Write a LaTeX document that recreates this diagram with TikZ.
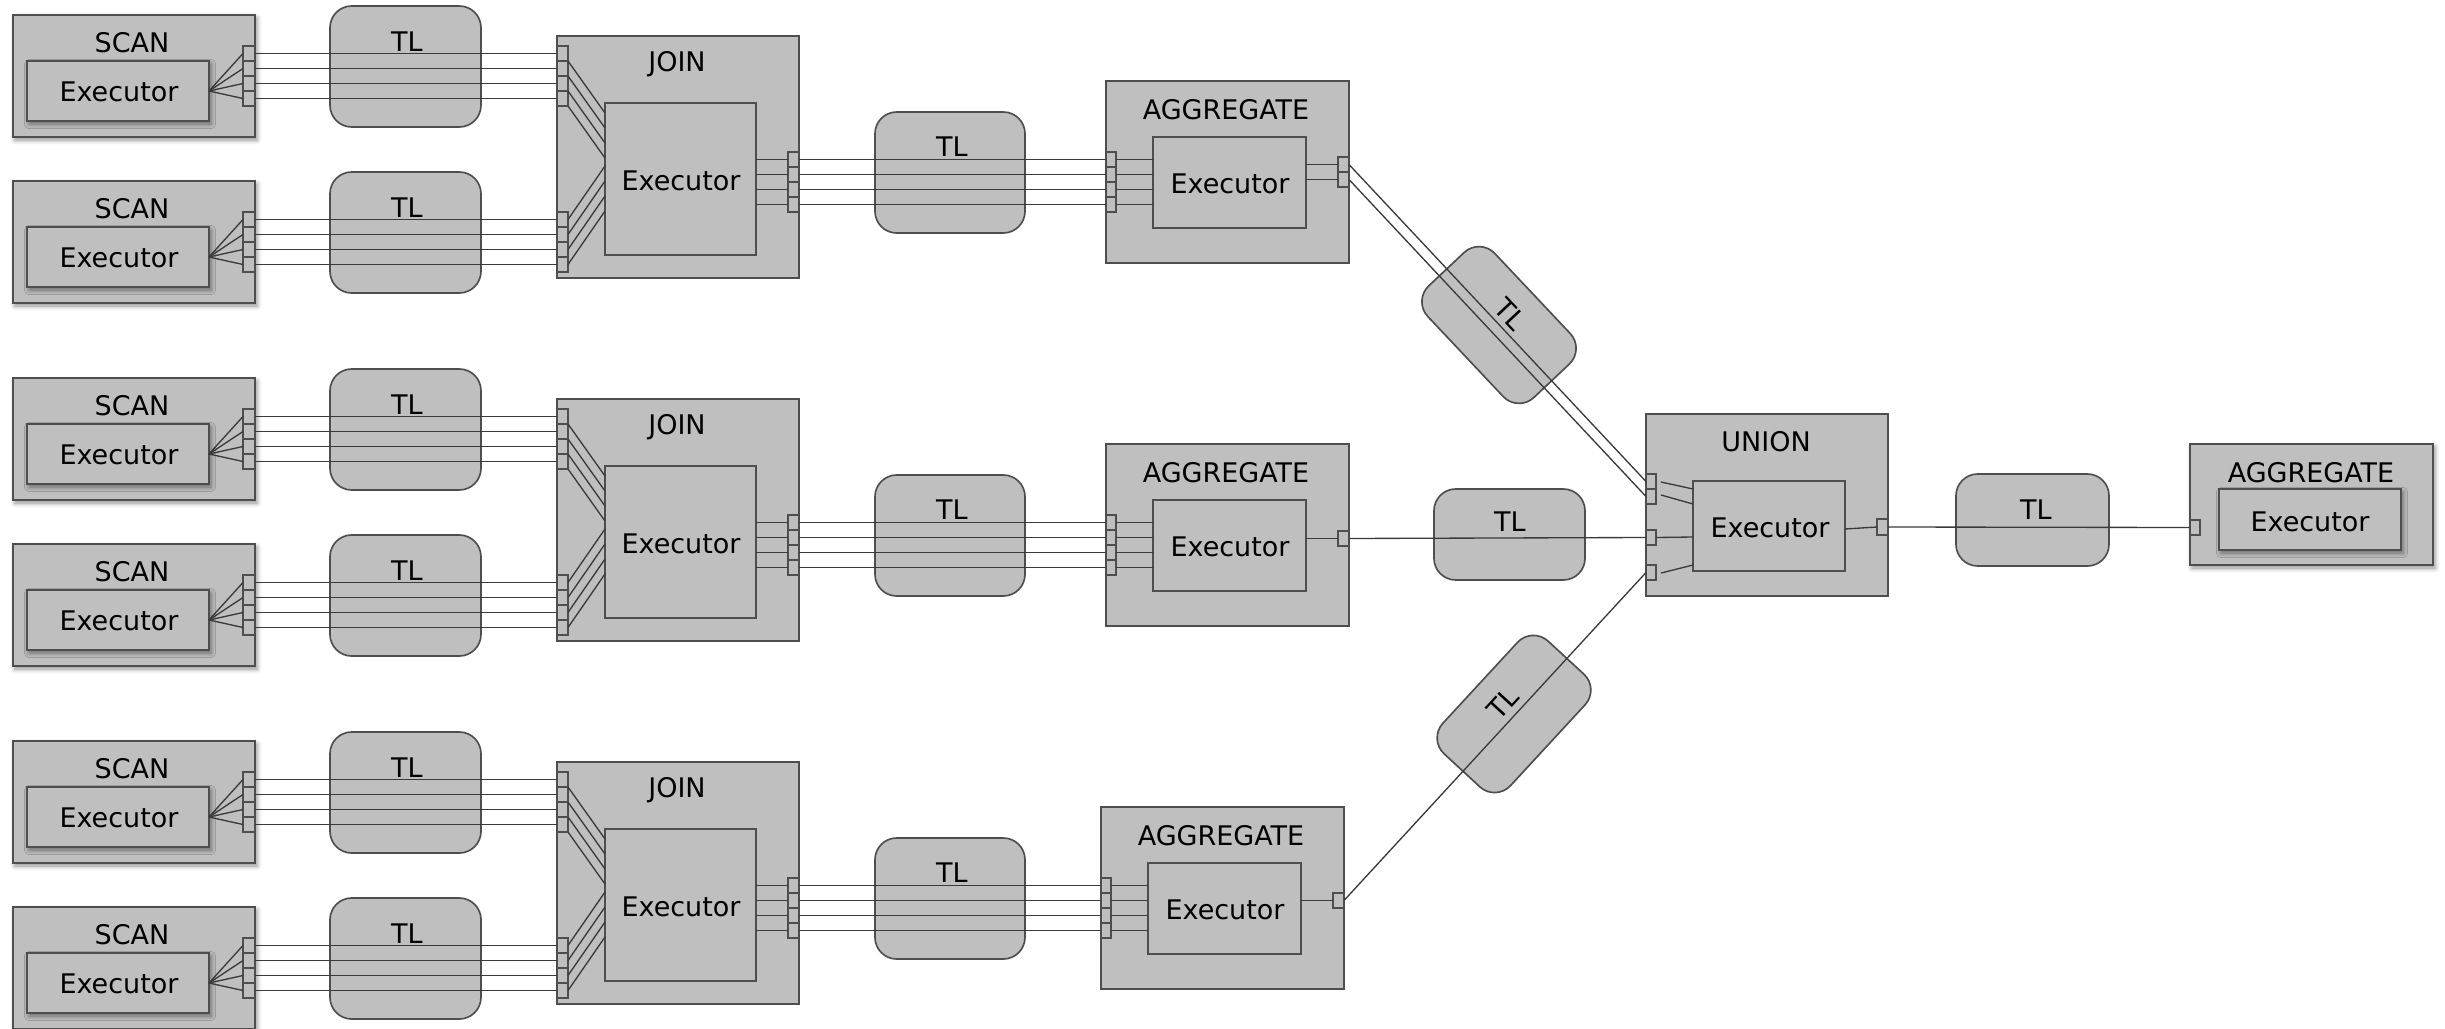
\documentclass[tikz,border=0pt]{standalone}
\usepackage{fontspec}
\setmainfont{DejaVu Sans}
\usetikzlibrary{calc,shadows.blur}

\definecolor{boxfill}{RGB}{191,191,191}
\definecolor{boxline}{RGB}{78,78,78}
\definecolor{wirecol}{RGB}{58,58,58}

\tikzset{
  opbox/.style={draw=boxline, fill=boxfill, line width=0.6pt, inner sep=0pt, outer sep=0pt},
  shadowed/.style={blur shadow={shadow xshift=0.6pt, shadow yshift=-0.9pt, shadow blur radius=1.4pt, shadow opacity=45}},
  port/.style={draw=boxline, fill=boxfill, line width=0.45pt, inner sep=0pt, outer sep=0pt},
  tlbox/.style={draw=boxline, fill=boxfill, line width=0.5pt, rounded corners=6.5pt, inner sep=0pt, outer sep=0pt},
  wire/.style={draw=wirecol, line width=0.4pt},
  lbl/.style={inner sep=0pt, font=\fontsize{8.1}{9.7}\selectfont, text=black},
}

% rectangle node given by its corners: style, name, x1, y1, x2, y2
\newcommand\rbox[6]{%
  \pgfmathsetmacro\rbw{((#5)-(#3))*0.3}%
  \pgfmathsetmacro\rbh{((#6)-(#4))*0.3}%
  \node[#1, minimum width=\rbw pt, minimum height=\rbh pt] (#2) at ({((#3)+(#5))/2},{((#4)+(#6))/2}) {};%
}

\begin{document}
\begin{tikzpicture}[x=0.3pt, y=-0.3pt]
\useasboundingbox (0,0) rectangle (2445,1029);

% ---------- three SCAN/JOIN/AGGREGATE pipelines ----------
\foreach \g/\dy/\ax in {1/0/0, 2/363/0, 3/726/-5} {
  \foreach \s/\o in {1/0, 2/166} {
    \pgfmathsetmacro\oo{\dy+\o}
    % scan operator
    \rbox{opbox,shadowed}{scan\g\s}{13}{15+\oo}{255}{137+\oo}
    \rbox{opbox,shadowed}{sx\g\s}{27}{61+\oo}{209}{121+\oo}
    \node[lbl] (sl\g\s) at (132,43+\oo) {SCAN};
    \node[lbl] (sxl\g\s) at (119,92+\oo) {Executor};
    % transport layer
    \rbox{tlbox}{tl\g\s}{330}{6+\oo}{481}{127+\oo}
    \node[lbl] (tll\g\s) at (407,42+\oo) {TL};
  }
  % join operator
  \rbox{opbox}{join\g}{557}{36+\dy}{799}{278+\dy}
  \rbox{opbox}{jx\g}{605}{103+\dy}{756}{255+\dy}
  \node[lbl] (jl\g) at (677,64+\dy) {JOIN};
  \node[lbl] (jxl\g) at (681,181+\dy) {Executor};
  % transport layer between join and aggregate
  \rbox{tlbox}{tm\g}{875}{112+\dy}{1025}{233+\dy}
  \node[lbl] (tml\g) at (952,147+\dy) {TL};
  % aggregate operator
  \rbox{opbox}{agg\g}{1106+\ax}{81+\dy}{1349+\ax}{263+\dy}
  \rbox{opbox}{ax\g}{1153+\ax}{137+\dy}{1306+\ax}{228+\dy}
  \node[lbl] (al\g) at (1226+\ax,110+\dy) {AGGREGATE};
  \node[lbl] (axl\g) at (1230+\ax,184+\dy) {Executor};
}

% ---------- ports of the pipelines ----------
\foreach \g/\dy/\ax in {1/0/0, 2/363/0, 3/726/-5} {
  \foreach \i in {0,...,3} {
    \foreach \s/\o in {1/0, 2/166} {
      \pgfmathsetmacro\oo{\dy+\o}
      \rbox{port}{sp\g\s\i}{243}{46+15*\i+\oo}{255}{61+15*\i+\oo}
      \rbox{port}{ji\g\s\i}{557}{46+15*\i+\oo}{568}{61+15*\i+\oo}
    }
    \rbox{port}{jo\g\i}{788}{152+15*\i+\dy}{799}{167+15*\i+\dy}
    \rbox{port}{ai\g\i}{1106+\ax}{152+15*\i+\dy}{1116+\ax}{167+15*\i+\dy}
    \coordinate (jt\g\i) at (605,113+15*\i+\dy);
    \coordinate (jb\g\i) at (605,166+15*\i+\dy);
  }
}

% aggregate outputs
\rbox{port}{ao1a}{1338}{157}{1349}{172}
\rbox{port}{ao1b}{1338}{172}{1349}{187}
\rbox{port}{ao2}{1338}{531}{1349}{546}
\rbox{port}{ao3}{1333}{893}{1344}{908}

% ---------- union ----------
\rbox{opbox}{union}{1646}{414}{1888}{596}
\rbox{opbox}{ux}{1693}{481}{1845}{571}
\node[lbl] (ul) at (1766,442) {UNION};
\node[lbl] (uxl) at (1770,528) {Executor};
\rbox{port}{ui1}{1646}{474}{1656}{489}
\rbox{port}{ui2}{1646}{489}{1656}{504}
\rbox{port}{ui3}{1646}{530}{1656}{545}
\rbox{port}{ui4}{1646}{565}{1656}{580}
\rbox{port}{uo}{1877}{519}{1888}{535}

% transport layers feeding the union
\node[tlbox, rotate=-46.7, minimum width=46pt, minimum height=27.6pt] (td1) at (1499,325) {};
\node[lbl, rotate=-46.7] (td1l) at ($(td1.center)!0.34!(td1.north)$) {TL};
\rbox{tlbox}{tu2}{1434}{489}{1585}{580}
\node[lbl] (tu2l) at (1510,522) {TL};
\node[tlbox, rotate=47.3, minimum width=46pt, minimum height=27.6pt] (td3) at (1514,714) {};
\node[lbl, rotate=47.3] (td3l) at ($(td3.center)!0.34!(td3.north)$) {TL};

% ---------- final aggregate ----------
\rbox{tlbox}{tf}{1956}{474}{2109}{566}
\node[lbl] (tfl) at (2036,510) {TL};
\rbox{opbox,shadowed}{fagg}{2190}{444}{2433}{565}
\rbox{opbox,shadowed}{fx}{2219}{489}{2401}{550}
\node[lbl] (fl) at (2311,473) {AGGREGATE};
\node[lbl] (fxl) at (2310,522) {Executor};
\rbox{port}{fp}{2190}{520}{2200}{535}

% ---------- wires of the pipelines ----------
\foreach \g in {1,2,3} {
  \foreach \i in {0,...,3} {
    \foreach \s in {1,2} {
      \draw[wire] (sx\g\s.east) -- (sp\g\s\i.west);
      \draw[wire] (sp\g\s\i.east) -- (ji\g\s\i.west);
    }
    \draw[wire] (ji\g1\i.south east) -- (jt\g\i);
    \draw[wire] (ji\g2\i.east) -- (jb\g\i);
    \draw[wire] (jx\g.east |- jo\g\i.west) -- (jo\g\i.west);
    \draw[wire] (jo\g\i.east) -- (ai\g\i.west);
    \draw[wire] (ai\g\i.east) -- (ax\g.west |- ai\g\i.east);
  }
}

% aggregate executors to their outputs, and on to the union
\draw[wire] (ax1.east |- ao1a.west) -- (ao1a.west);
\draw[wire] (ax1.east |- ao1b.west) -- (ao1b.west);
\draw[wire] (ax2.east |- ao2.west) -- (ao2.west);
\draw[wire] (ax3.east |- ao3.west) -- (ao3.west);
\draw[wire] (ao1a.east) -- (ui1.west);
\draw[wire] (ao1b.east) -- (ui2.west);
\draw[wire] (ao2.east) -- (ui3.west);
\draw[wire] (ao3.east) -- (ui4.west);

% inside the union
\coordinate (ua1) at (1661,482);
\coordinate (ub1) at (1693,489);
\coordinate (ua2) at (1661,495);
\coordinate (ub2) at (1693,504);
\coordinate (ub3) at (1693,537);
\coordinate (ua4) at (1661,573);
\coordinate (ub4) at (1693,565);
\coordinate (ue) at (1845,529);
\draw[wire] (ua1) -- (ub1);
\draw[wire] (ua2) -- (ub2);
\draw[wire] (ui3.east) -- (ub3);
\draw[wire] (ua4) -- (ub4);
\draw[wire] (ue) -- (uo.west);
\draw[wire] (uo.east) -- (fp.west);
\end{tikzpicture}
\end{document}
